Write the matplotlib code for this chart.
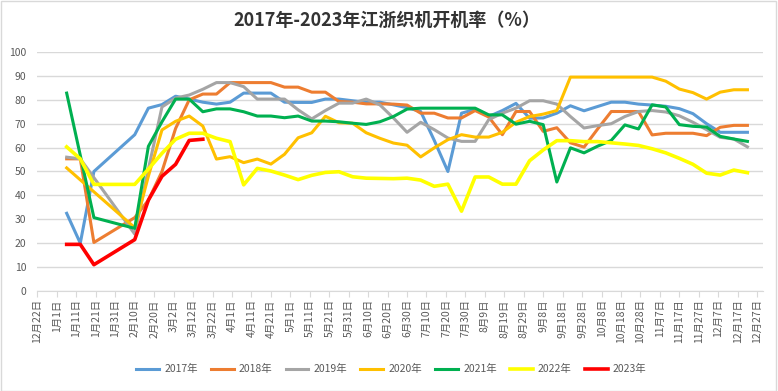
import numpy as np
import pandas as pd
import matplotlib
matplotlib.use("Agg")
import matplotlib.pyplot as plt
from matplotlib.patches import Rectangle

plt.rcParams['font.family'] = ['Noto Sans CJK SC', 'DejaVu Sans']

nan = np.nan

# weekly observation dates (shared x column), first week ending 1月6日
first_date = "2023-01-06"
n_weeks = 51

years = ["2017年", "2018年", "2019年", "2020年", "2021年", "2022年", "2023年"]
colors = ["#5B9BD5", "#ED7D31", "#A5A5A5", "#FFC000", "#00B050", "#FFFF00", "#FF0000"]

y2017 = [32.5, 20, 50, nan, nan, 65.4, 76.5, 78, 81.5, 80.3, 79, 78.2, 79, 82.8, 82.8, 82.8, 79,
         78.9, 78.9, 80.3, 80.3, 79.6, 79, 79, 77.9, 76.7, 75.1, 63, 50, 74.4, 76, 73, 75.5, 78.5,
         72.3, 72.4, 74.4, 77.5, 75.4, 77.2, 79, 79, 78.2, 77.8, 77.3, 76.3, 74.2, 70, 66.4, 66.4, 66.4]
y2018 = [55.3, 55.3, 20.3, nan, nan, 30.7, 38, 50, 68, 80, 82.4, 82.4, 87.2, 87.2, 87.2, 87.2, 85.3,
         85.3, 83.2, 83.2, 79.3, 79, 78.3, 78.3, 78.2, 77.8, 74.4, 74.4, 72.4, 72.4, 75.5, 72.8, 65.4,
         75.1, 75.1, 66.8, 68.3, 62, 60.2, 67.8, 75.1, 75.1, 75.1, 65.3, 66, 66, 66, 65, 68.5, 69.3, 69.3]
y2019 = [56, 55.3, nan, nan, nan, 23.8, 51, 77, 80.7, 82, 84.4, 87.2, 87.2, 85.5, 80.3, 80.3, 80.3,
         75.8, 72, 75.5, 78.6, 78.6, 80.3, 77.9, 72.4, 66.4, 70.6, 67.5, 64, 62.6, 62.6, 71.7, 74.4,
         76.5, 79.6, 79.6, 78.2, 73, 68.2, 69.2, 70, 73, 75.1, 75.5, 74.9, 73.3, 70.6, 67.5, 64.3, 63.6, 60.3]
y2020 = [51.5, nan, nan, nan, nan, 26.5, 48, 67.4, 71, 73.2, 69, 55.2, 56.2, 53.7, 55.2, 53.1, 57.2,
         64.1, 66.2, 73.1, 70.4, 70.2, 66.2, 63.9, 61.9, 61, 56.1, 59.9, 63.3, 65.4, 64.4, 64.4, 66.4,
         70.6, 73, 74, 75.5, 89.5, 89.5, 89.5, 89.5, 89.5, 89.5, 89.5, 87.8, 84.5, 83, 80.3, 83.2, 84.2, 84.2]
y2021 = [82.8, nan, 30.7, nan, nan, 26.2, 60.5, 70.8, 80.3, 80.3, 75, 76.2, 76.2, 75, 73.2, 73.2, 72.5,
         73.2, 71.1, 71.1, 70.8, 70.2, 69.7, 70.8, 73, 76.1, 76.5, 76.5, 76.5, 76.5, 76.5, 73.7, 73.7,
         69.8, 71, 69.6, 45.6, 59.9, 57.8, 60.6, 63, 69.5, 67.8, 77.9, 77, 69.6, 68.9, 68.6, 64.7, 63.6, 62.6]
y2022 = [60.3, 55.3, 44.6, 44.6, 44.6, 44.6, 51, 57.6, 63.5, 66, 66, 63.9, 62.5, 44.4, 51.3, 50.2, 48.5,
         46.6, 48.4, 49.6, 49.9, 47.8, 47.2, 47.1, 47, 47.2, 46.4, 43.8, 44.7, 33.4, 47.7, 47.7, 44.7,
         44.7, 54.5, 59, 62.9, 62.9, 62.5, 62.5, 62, 61.5, 60.9, 59.5, 57.8, 55.5, 53, 49.3, 48.5, 50.6, 49.5]
y2023 = [19.5, 19.5, 11, nan, nan, 21.5, 38, 48, 53, 63, 63.5]

series = [y2017, y2018, y2019, y2020, y2021, y2022, y2023]

# axis: 10-day ticks from 12月22日 to 12月27日
axis_start = pd.Timestamp("2022-12-22")
tick_dates = pd.date_range(axis_start, periods=38, freq="10D")
tick_labels = [f"{d.month}月{d.day}日" for d in tick_dates]
tick_pos = (tick_dates - axis_start).days

week_dates = pd.date_range(first_date, periods=n_weeks, freq="7D")
week_pos = np.asarray((week_dates - axis_start).days, dtype=float)

fig = plt.figure(figsize=(7.78, 3.91), dpi=100)
fig.patches.append(Rectangle((0.001, 0.001), 0.997, 0.996, transform=fig.transFigure,
                             fill=False, edgecolor="#D9D9D9", linewidth=1))
ax = fig.add_axes([0.0482, 0.2558, 0.9325, 0.6112])

for name, vals, c in zip(years, series, colors):
    v = np.array(vals, dtype=float)
    x = week_pos[:len(v)]
    m = ~np.isnan(v)
    lw = 2.6 if name in ("2022年", "2023年") else 2.2
    ax.plot(x[m], v[m], color=c, lw=lw, label=name, solid_joinstyle="round")

ax.set_ylim(0, 100)
ax.set_yticks(range(0, 101, 10))
ax.set_xlim(0, 373)
ax.set_xticks(tick_pos)
ax.set_xticklabels(tick_labels, rotation=90, fontsize=7.5, color="#595959")
ax.tick_params(axis="y", length=0, labelsize=7.5, labelcolor="#595959", pad=8)
ax.tick_params(axis="x", length=4, color="#D9D9D9", pad=2)
ax.grid(axis="y", color="#D9D9D9", lw=1)
ax.set_axisbelow(True)
for s in ("left", "right", "top"):
    ax.spines[s].set_visible(False)
ax.spines["bottom"].set_color("#D9D9D9")

fig.text(0.497, 0.947, "2017年-2023年江浙织机开机率（%）", ha="center", va="center",
         fontsize=13, fontweight="bold", color="#333333")

fig.legend(loc="center", bbox_to_anchor=(0.503, 0.056), ncol=7, frameon=False,
           fontsize=7.5, handlelength=2.2, handletextpad=0.5, columnspacing=1.25,
           labelcolor="#595959")

fig.savefig("out.png", dpi=100)
